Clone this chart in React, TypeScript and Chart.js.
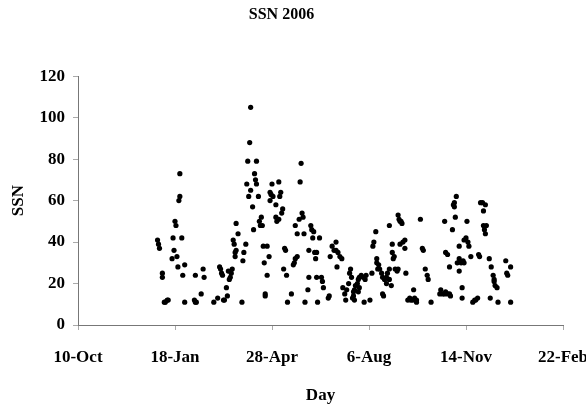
import React, { useEffect, useRef } from "react";
import { Chart, registerables } from "chart.js";

Chart.register(...registerables);

const chartTitle = "SSN 2006";
const xAxisTitle = "Day";
const yAxisTitle = "SSN";
// x positions: days counted from 10-Oct-2005 (tick every 100 days)
const xTickLabels = ["10-Oct", "18-Jan", "28-Apr", "6-Aug", "14-Nov", "22-Feb"];
const yTickValues = [0, 20, 40, 60, 80, 100, 120];

const days = [
  82, 83, 84, 87, 87, 89, 90, 92, 93, 97, 98, 99, 100, 101, 102, 103, 104, 105, 105, 107, 108, 110, 110,
  120, 121, 121, 122, 127, 129, 130,
  140, 144, 146, 147, 148, 149, 150, 151, 153, 154, 155, 156, 157, 158, 159, 160, 161, 162, 162, 163, 163, 165,
  169, 170, 171, 173, 174, 175, 176, 177, 178, 178, 180, 181, 182, 183, 184, 184, 186, 187, 188, 189, 190, 191,
  192, 193, 193, 195, 195, 197, 198, 198, 199, 200, 201, 204, 204, 205, 207, 207, 208, 209, 210, 211, 212, 213,
  214, 215, 216,
  220, 222, 223, 224, 224, 226, 226, 228, 229, 230, 231, 232, 233, 234, 237, 238, 238, 240, 241, 242, 243, 244,
  245, 246, 246, 247, 249, 251, 252, 253, 258, 259,
  260, 262, 264, 266, 266, 267, 268, 270, 272,
  273, 275, 276, 277, 279, 280, 281, 282,
  283, 284, 284, 285, 285, 286, 288, 289, 289, 290, 290, 292, 294, 295, 296, 297, 301,
  303, 304, 305, 307, 308, 308, 309, 310, 311, 313, 314, 315, 314, 316, 318, 318, 319, 321, 321, 321, 323, 324,
  324, 325, 326, 327, 329, 330, 330, 331, 332, 332, 333, 334, 335, 337, 337, 338,
  340, 342, 343, 345, 347, 349, 349, 346,
  353, 355, 356, 358, 360, 361, 364,
  373, 374, 376, 378, 379, 381, 383, 384,
  378, 379, 381, 383, 386, 387, 388, 388, 390, 389, 391, 393, 395, 397, 398, 393, 393, 396, 396, 398, 400, 402,
  403, 401, 405, 407, 409, 410, 412, 413, 414, 415, 417, 420, 418, 418, 419, 420, 421, 424, 425, 426, 428, 429,
  429, 430, 432, 433, 441, 442, 443, 446, 446,
];

const ssn = [
  41, 39, 37, 25, 23, 11, 11, 12, 12, 32, 42, 36, 50, 48, 33, 28, 60, 73, 62, 42, 24, 29, 11,
  12, 11, 24, 11, 15, 27, 23,
  11, 13, 28, 27, 25, 24, 12, 12, 18, 14, 26, 22, 23, 25, 27, 41, 39, 33, 35, 36, 49, 44,
  11, 31, 35, 39, 68, 79, 62, 88, 105, 65, 57, 46, 73, 70, 79, 68, 62, 50, 48, 52, 48, 38,
  30, 15, 14, 38, 24, 33, 60, 64, 63, 68, 62, 58, 52, 50, 51, 69, 62, 64, 54, 56, 27, 37,
  36, 24, 11,
  15, 29, 30, 32, 48, 33, 44, 51, 69, 78, 54, 52, 44, 11, 17, 23, 36, 48, 46, 42, 45, 35,
  32, 23, 35, 11, 42, 23, 21, 18, 13, 14,
  33, 38, 36, 36, 40, 28, 35, 33, 32,
  18, 15, 12, 17, 20, 25, 27, 23,
  13, 16, 14, 17, 12, 19, 20, 22, 16, 18, 23, 24, 23, 11, 22, 24, 12,
  25, 38, 40, 45, 32, 30, 27, 29, 27, 25, 15, 14, 23, 22, 23, 20, 25, 27, 48, 22, 19, 35,
  39, 32, 33, 27, 26, 27, 53, 51, 39, 50, 50, 49, 40, 41, 37, 25,
  12, 13, 12, 12, 13, 12, 11, 17,
  51, 37, 36, 27, 24, 22, 11,
  15, 17, 15, 15, 16, 15, 15, 14,
  50, 35, 34, 28, 46, 58, 59, 57, 62, 52, 30, 32, 30, 31, 30, 38, 26, 18, 13, 41, 42, 40,
  38, 50, 33, 11, 12, 12, 13, 34, 33, 59, 59, 58, 55, 48, 46, 44, 48, 32, 13, 28, 24, 22,
  21, 19, 18, 11, 31, 25, 24, 11, 28,
];

const FONT = "'Liberation Serif', 'Times New Roman', serif";

export default function App() {
  const ref = useRef<HTMLCanvasElement | null>(null);

  useEffect(() => {
    if (!ref.current) return;
    const points = days.map((d, i) => ({ x: d, y: ssn[i] }));
    const chart = new Chart(ref.current, {
      type: "scatter",
      data: {
        datasets: [
          {
            label: yAxisTitle,
            data: points,
            backgroundColor: "#000",
            borderColor: "#000",
            pointRadius: 2.6,
            pointBorderWidth: 0,
            pointHoverRadius: 2.6,
          },
        ],
      },
      options: {
        responsive: false,
        animation: false,
        layout: { padding: { left: 0, right: 23, top: 0, bottom: 0 } },
        plugins: {
          legend: { display: false },
          tooltip: { enabled: false },
          title: {
            display: true,
            text: chartTitle,
            color: "#000",
            font: { family: FONT, size: 16, weight: "bold" },
            padding: { top: 5.5, bottom: 51.5 },
          },
        },
        scales: {
          x: {
            type: "linear",
            min: 0,
            max: 500,
            ticks: {
              stepSize: 100,
              autoSkip: false,
              maxRotation: 0,
              color: "#000",
              padding: 17,
              font: { family: FONT, size: 17, weight: "bold" },
              callback: (v: any) => xTickLabels[Math.round(Number(v) / 100)] ?? "",
            },
            grid: { display: true, drawOnChartArea: false, drawTicks: true, tickLength: 5, color: "#aaa" },
            border: { display: true, color: "#777", dash: [1, 1], width: 1 },
            title: {
              display: true,
              text: xAxisTitle,
              color: "#000",
              font: { family: FONT, size: 17, weight: "bold" },
              padding: { top: 0, bottom: 6 },
            },
            afterFit: (s: any) => {
              s.height = 87;
              s.paddingLeft = 0;
              s.paddingRight = 0;
            },
          },
          y: {
            min: 0,
            max: 120,
            afterBuildTicks: (s: any) => {
              s.ticks = yTickValues.map((v) => ({ value: v }));
            },
            ticks: {
              color: "#000",
              padding: 8,
              font: { family: FONT, size: 17, weight: "bold" },
            },
            grid: { display: true, drawOnChartArea: false, drawTicks: true, tickLength: 5, color: "#aaa" },
            border: { display: true, color: "#777", dash: [1, 1], width: 1 },
            title: {
              display: true,
              text: yAxisTitle,
              color: "#000",
              font: { family: FONT, size: 17, weight: "bold" },
              padding: { top: 8, bottom: 0 },
            },
            afterFit: (s: any) => {
              s.width = 78;
            },
          },
        },
      },
    });
    return () => chart.destroy();
  }, []);

  return (
    <div style={{ position: "fixed", left: 0, top: 0, width: 586, height: 412, background: "#fff" }}>
      <canvas ref={ref} width={586} height={412} style={{ display: "block" }} />
    </div>
  );
}
